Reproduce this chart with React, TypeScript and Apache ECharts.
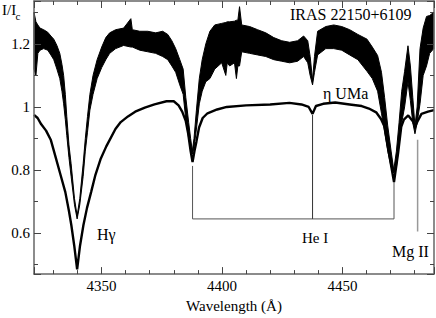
import React, { useEffect, useRef } from "react";
import * as echarts from "echarts";

// IRAS 22150+6109 spectrum: read as a noisy band (lower and upper envelope)
const irasWavelength = [
  4322.0, 4322.8, 4323.6, 4324.5, 4326.0, 4327.7, 4329.0, 4330.2, 4331.5, 4332.7,
  4333.6, 4334.3, 4335.0, 4335.6, 4336.5, 4337.4, 4338.8, 4339.9, 4341.0, 4342.4,
  4343.3, 4344.2, 4345.2, 4346.5, 4348.2, 4350.1, 4351.8, 4353.4, 4355.9, 4359.2,
  4362.2, 4362.8, 4365.9, 4369.2, 4372.5, 4375.4, 4377.5, 4379.2, 4380.8, 4382.5,
  4383.9, 4385.0, 4386.2, 4387.0, 4387.7, 4388.4, 4389.4, 4390.6, 4391.8, 4393.3,
  4395.0, 4397.0, 4399.9, 4401.6, 4402.2, 4403.2, 4405.2, 4406.0, 4406.6, 4407.3, 4408.2, 4411.5, 4414.8, 4418.2,
  4421.5, 4424.8, 4428.1, 4431.4, 4433.9, 4435.6, 4436.6, 4437.6, 4438.4, 4439.7,
  4443.1, 4446.4, 4449.7, 4453.0, 4456.4, 4460.2, 4462.4, 4464.6, 4466.2, 4467.5,
  4468.8, 4470.2, 4471.3, 4472.4, 4473.5, 4474.6, 4475.8, 4477.2, 4478.2, 4479.2,
  4480.1, 4481.0, 4482.2, 4483.5, 4484.9, 4486.2, 4487.9,
];
const irasLow = [
  1.12, 1.10, 1.17, 1.18, 1.185, 1.18, 1.165, 1.15, 1.12, 1.09,
  1.05, 1.01, 0.96, 0.91, 0.84, 0.78, 0.69, 0.645, 0.69, 0.78,
  0.86, 0.92, 0.99, 1.04, 1.09, 1.125, 1.15, 1.17, 1.185, 1.195,
  1.19, 1.19, 1.18, 1.175, 1.17, 1.16, 1.15, 1.13, 1.11, 1.07,
  1.04, 0.96, 0.90, 0.87, 0.85, 0.87, 0.93, 1.01, 1.05, 1.08,
  1.09, 1.12, 1.14, 1.10, 1.14, 1.13, 1.14, 1.09, 1.13, 1.13, 1.175, 1.17, 1.165, 1.16,
  1.15, 1.145, 1.14, 1.145, 1.16, 1.14, 1.10, 1.07, 1.11, 1.165,
  1.185, 1.185, 1.18, 1.165, 1.15, 1.113, 1.09, 1.05, 0.98, 0.92,
  0.86, 0.81, 0.79, 0.81, 0.88, 0.95, 1.0, 1.08, 1.02, 0.95,
  0.915, 0.95, 1.01, 1.10, 1.13, 1.17, 1.185,
];
const irasHigh = [
  1.30, 1.27, 1.26, 1.25, 1.245, 1.237, 1.225, 1.215, 1.195, 1.17,
  1.135, 1.10, 1.04, 0.97, 0.88, 0.82, 0.71, 0.655, 0.71, 0.82,
  0.90, 0.97, 1.04, 1.10, 1.15, 1.19, 1.22, 1.235, 1.245, 1.25,
  1.28, 1.245, 1.24, 1.24, 1.235, 1.24, 1.23, 1.21, 1.185, 1.15,
  1.12, 1.03, 0.95, 0.90, 0.86, 0.90, 0.99, 1.09, 1.15, 1.20,
  1.24, 1.26, 1.265, 1.268, 1.27, 1.27, 1.272, 1.275, 1.275, 1.318, 1.26, 1.255, 1.245, 1.235,
  1.22, 1.21, 1.205, 1.21, 1.225, 1.21, 1.16, 1.085, 1.16, 1.24,
  1.255, 1.26, 1.255, 1.245, 1.23, 1.215, 1.19, 1.163, 1.11, 1.03,
  0.94, 0.86, 0.80, 0.86, 0.95, 1.05, 1.113, 1.194, 1.13, 1.03,
  0.94, 1.0, 1.185, 1.25, 1.287, 1.29, 1.30,
];

// η UMa spectrum
const umaWavelength = [
  4322, 4323.5, 4325, 4327, 4329, 4331, 4333, 4335, 4336.5, 4337.5,
  4338.7, 4339.9, 4341.1, 4342.5, 4344, 4345.7, 4347.5, 4349.6, 4352, 4355.8,
  4358, 4361, 4364, 4368, 4372, 4377, 4380, 4382, 4383.5, 4385,
  4386, 4387, 4387.8, 4388.6, 4389.4, 4390.5, 4392, 4394, 4398, 4402,
  4410, 4420, 4428, 4433, 4436, 4437.6, 4439, 4442, 4447, 4453,
  4458, 4461, 4464, 4466, 4467.5, 4469.3, 4471.4, 4473.1, 4474.4, 4475.5,
  4477.3, 4479.2, 4480.2, 4481.2, 4482.8, 4485.5, 4488,
];
const umaFlux = [
  0.975, 0.965, 0.945, 0.925, 0.895, 0.84, 0.785, 0.73, 0.67, 0.625,
  0.56, 0.485, 0.56, 0.625, 0.68, 0.73, 0.785, 0.834, 0.875, 0.93,
  0.952, 0.97, 0.985, 0.998, 1.008, 1.018, 1.018, 1.005, 0.985, 0.955,
  0.915, 0.86, 0.825, 0.86, 0.89, 0.935, 0.965, 0.98, 0.992, 1.0,
  1.005, 1.008, 1.013, 1.008, 1.0, 0.978, 1.003, 1.01, 1.014, 1.008,
  1.003, 0.995, 0.983, 0.962, 0.937, 0.854, 0.762, 0.854, 0.937, 0.96,
  0.973, 0.955, 0.937, 0.955, 0.978, 0.985, 0.99,
];

// Line identifications
const heIWavelengths = [4387.8, 4437.6, 4471.4];
const heIMarkerTops = [0.813, 0.975, 0.762];
const bracketLevel = 0.645;
const mgIIWavelength = 4481.2;
const mgIIMarker = [0.896, 0.605];

const xRange = [4322, 4488];
const yRange = [0.47, 1.336];

const SERIF = "Liberation Serif";

export default function App() {
  const ref = useRef<HTMLDivElement>(null);

  useEffect(() => {
    if (!ref.current) return;
    const chart = echarts.init(ref.current, undefined, { renderer: "svg" });

    const axisLine = { show: true, onZero: false, lineStyle: { color: "#666", width: 1.5 } };
    const axisTick = { show: true, inside: true, length: 7, lineStyle: { color: "#444", width: 1 } };
    const minorLine = { color: "#444", width: 1 };
    const labelStyle = { fontFamily: SERIF, fontSize: 15, color: "#000" };

    const bracket = [
      [heIWavelengths[0], heIMarkerTops[0]],
      [heIWavelengths[0], bracketLevel],
      [heIWavelengths[2], bracketLevel],
      [heIWavelengths[2], heIMarkerTops[2]],
    ];

    const txt = (text: string, x: number, y: number, size: number) => ({
      type: "text",
      x,
      y,
      silent: true,
      style: { text, fontFamily: SERIF, fontSize: size, fill: "#000", verticalAlign: "middle" },
    });

    chart.setOption({
      animation: false,
      textStyle: { fontFamily: SERIF },
      grid: { left: 34, right: 2, top: 1, bottom: 37, containLabel: false },
      xAxis: [
        {
          type: "value",
          position: "bottom",
          min: xRange[0],
          max: xRange[1],
          splitNumber: 3,
          name: "Wavelength (Å)",
          nameLocation: "middle",
          nameGap: 19,
          nameTextStyle: labelStyle,
          axisLine,
          axisTick,
          minorTick: { show: true, splitNumber: 5, length: 4, lineStyle: minorLine },
          axisLabel: {
            ...labelStyle,
            margin: 4,
            showMinLabel: false,
            showMaxLabel: false,
            formatter: (v: number) => String(Math.round(v)),
          },
          splitLine: { show: false },
          z: 5,
        },
        {
          type: "value",
          position: "top",
          min: xRange[0],
          max: xRange[1],
          splitNumber: 3,
          axisLine,
          axisTick,
          minorTick: { show: true, splitNumber: 5, length: 4, lineStyle: minorLine },
          axisLabel: { show: false },
          splitLine: { show: false },
          z: 5,
        },
      ],
      yAxis: [
        {
          type: "value",
          position: "left",
          min: yRange[0],
          max: yRange[1],
          axisLine,
          axisTick,
          minorTick: { show: true, splitNumber: 2, length: 4, lineStyle: minorLine },
          axisLabel: {
            ...labelStyle,
            margin: 4,
            showMinLabel: false,
            showMaxLabel: false,
            formatter: (v: number) => String(Math.round(v * 10) / 10),
          },
          splitLine: { show: false },
          z: 5,
        },
        {
          type: "value",
          position: "right",
          min: yRange[0],
          max: yRange[1],
          axisLine,
          axisTick,
          minorTick: { show: true, splitNumber: 2, length: 4, lineStyle: minorLine },
          axisLabel: { show: false },
          splitLine: { show: false },
          z: 5,
        },
      ],
      series: [
        {
          type: "custom",
          name: "IRAS 22150+6109",
          coordinateSystem: "cartesian2d",
          xAxisIndex: 0,
          yAxisIndex: 0,
          silent: true,
          data: [[irasWavelength[0], irasLow[0]]],
          encode: { x: 0, y: 1 },
          renderItem: (_params: any, api: any) => {
            const pts: number[][] = [];
            for (let i = 0; i < irasWavelength.length; i++) {
              pts.push(api.coord([irasWavelength[i], irasHigh[i]]));
            }
            for (let i = irasWavelength.length - 1; i >= 0; i--) {
              pts.push(api.coord([irasWavelength[i], irasLow[i]]));
            }
            return {
              type: "polygon",
              shape: { points: pts },
              style: { fill: "#000", stroke: "#000", lineWidth: 1 },
            };
          },
        },
        {
          type: "line",
          name: "η UMa",
          data: umaWavelength.map((w, i) => [w, umaFlux[i]]),
          showSymbol: false,
          symbol: "none",
          silent: true,
          lineStyle: { color: "#000", width: 2.4 },
        },
        {
          type: "line",
          data: bracket,
          showSymbol: false,
          symbol: "none",
          silent: true,
          lineStyle: { color: "#555", width: 1 },
        },
        {
          type: "line",
          data: [
            [heIWavelengths[1], heIMarkerTops[1]],
            [heIWavelengths[1], bracketLevel],
          ],
          showSymbol: false,
          symbol: "none",
          silent: true,
          lineStyle: { color: "#333", width: 1 },
        },
        {
          type: "line",
          data: [
            [mgIIWavelength, mgIIMarker[0]],
            [mgIIWavelength, mgIIMarker[1]],
          ],
          showSymbol: false,
          symbol: "none",
          silent: true,
          lineStyle: { color: "#999", width: 1.5 },
        },
      ],
      graphic: [
        txt("I/I", 2, 10, 15),
        txt("c", 15.5, 16, 11),
        txt("IRAS 22150+6109", 290, 14, 16),
        txt("η UMa", 323, 93, 16),
        txt("Hγ", 97, 234, 16),
        txt("He I", 302, 238, 15),
        txt("Mg II", 392, 251, 16),
      ],
    });

    return () => chart.dispose();
  }, []);

  return (
    <div
      ref={ref}
      style={{ position: "absolute", left: 0, top: 0, width: 436, height: 318, background: "#fff" }}
    />
  );
}
